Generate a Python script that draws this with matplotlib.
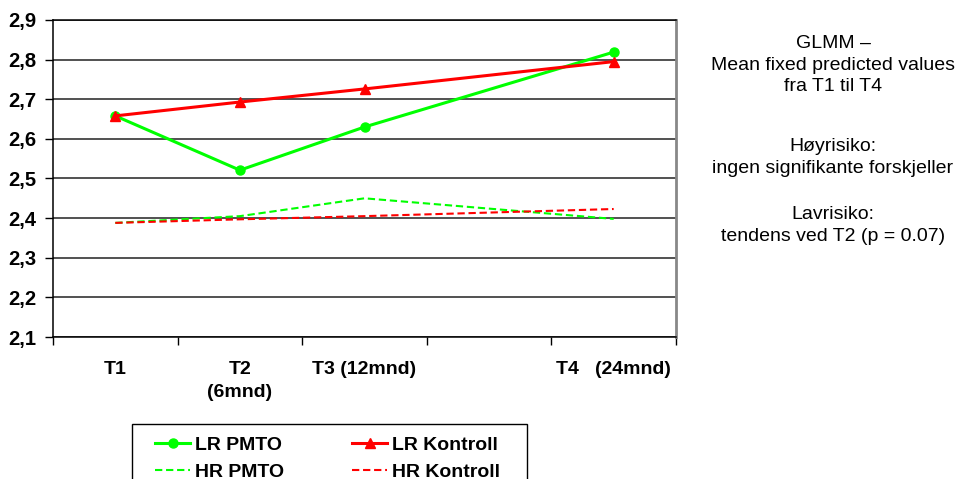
import matplotlib
matplotlib.use("Agg")
import matplotlib.pyplot as plt
from matplotlib.patches import Rectangle
import numpy as np

plt.rcParams['font.family'] = ['Liberation Sans', 'DejaVu Sans']

# categories (4th slot is an empty gap before T4)
categories = ["T1", "T2\n(6mnd)", "T3 (12mnd)", "", "T4   (24mnd)"]
time_idx = [0, 1, 2, 4]

lr_pmto = [2.658, 2.521, 2.630, 2.819]
lr_kontroll = [2.658, 2.693, 2.726, 2.795]
hr_pmto = [2.388, 2.405, 2.450, 2.398]
hr_kontroll = [2.388, 2.397, 2.405, 2.423]

y_ticks = [2.1, 2.2, 2.3, 2.4, 2.5, 2.6, 2.7, 2.8, 2.9]
y_labels = ["2,1", "2,2", "2,3", "2,4", "2,5", "2,6", "2,7", "2,8", "2,9"]

notes = ["GLMM \u2013\nMean fixed predicted values\nfra T1 til T4",
         "H\u00f8yrisiko:\ningen signifikante forskjeller",
         "Lavrisiko:\ntendens ved T2 (p = 0.07)"]

GREEN = "#00FF00"
RED = "#FF0000"

fig = plt.figure(figsize=(9.55, 4.79), dpi=100)
ax = fig.add_axes([53/955, 1-337/479, (676-53)/955, (337-20)/479])

h1, = ax.plot(time_idx, lr_pmto, color=GREEN, lw=2.2, marker="o", ms=6.5, label="LR PMTO")
h2, = ax.plot(time_idx, lr_kontroll, color=RED, lw=2.2, marker="^", ms=7.5, label="LR Kontroll")
h3, = ax.plot(time_idx, hr_pmto, color=GREEN, lw=1.5, ls=(0, (3.5, 1.8)), label="HR PMTO")
h4, = ax.plot(time_idx, hr_kontroll, color=RED, lw=1.5, ls=(0, (3.5, 1.8)), label="HR Kontroll")

ax.set_xlim(-0.5, len(categories) - 0.5)
ax.set_ylim(2.1, 2.9)
ax.set_yticks(y_ticks)
ax.set_yticklabels(y_labels, fontsize=14.5, fontweight="bold")
ax.yaxis.grid(True, color="#222222", lw=1.1)
ax.set_axisbelow(True)

ax.set_xticks(np.arange(-0.5, len(categories)), labels=[""] * (len(categories) + 1))
ax.set_xticks(np.arange(len(categories)), labels=categories, minor=True,
              fontsize=14, fontweight="bold")
for lbl in ax.get_xticklabels(minor=True):
    lbl.set_linespacing(1.5)
ax.tick_params(axis="x", which="major", length=6, direction="out", width=1)
ax.tick_params(axis="x", which="minor", length=0, pad=17)
ax.tick_params(axis="y", length=6, width=1, pad=6)

for s in ["left", "bottom", "top"]:
    ax.spines[s].set_color("black")
    ax.spines[s].set_linewidth(1.1)
ax.spines["right"].set_color("#888888")
ax.spines["right"].set_linewidth(2)

note_y = [0.927, 0.712, 0.57]
for t, y in zip(notes, note_y):
    fig.text(833/955, y, t, ha="center", va="top", fontsize=14, linespacing=1.35)

# legend frame, cut off by the bottom edge like the original
fig.patches.append(Rectangle((132/955, -0.05), (527-132)/955, 0.05 + (479-424)/479,
                             transform=fig.transFigure, fill=False, ec="black", lw=1))
leg = fig.legend([h1, h3, h2, h4], ["LR PMTO", "HR PMTO", "LR Kontroll", "HR Kontroll"],
                 ncol=2, loc="upper left", bbox_to_anchor=(155/955, 1-436/479),
                 prop={"weight": "bold", "size": 14}, frameon=False,
                 handlelength=1.8, handletextpad=0.25, columnspacing=3.5,
                 borderpad=0, labelspacing=0.5, borderaxespad=0)

fig.savefig("out.png", dpi=100)
